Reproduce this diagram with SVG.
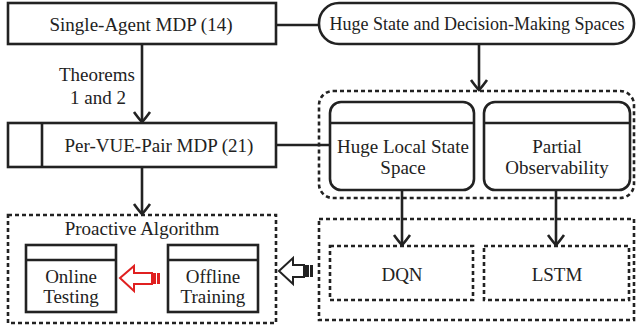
<svg xmlns="http://www.w3.org/2000/svg" width="637" height="335" viewBox="0 0 637 335">
<defs>
<marker id="ah" viewBox="-12 -10 14 20" refX="0" refY="0" markerWidth="14" markerHeight="20" markerUnits="userSpaceOnUse" orient="auto">
<path d="M -10 -8 Q -3 -3 0 0 Q -3 3 -10 8" fill="none" stroke="#222" stroke-width="2.6"/>
</marker>
</defs>
<g id="connectors" fill="none" stroke="#222" stroke-width="2.6">
<line x1="276" y1="25" x2="319" y2="25"/>
<line x1="276" y1="145" x2="330" y2="145"/>
<line x1="142" y1="44" x2="142" y2="122" marker-end="url(#ah)"/>
<line x1="142" y1="167" x2="142" y2="214" marker-end="url(#ah)"/>
<line x1="479" y1="44" x2="479" y2="90" marker-end="url(#ah)"/>
<line x1="402" y1="190" x2="402" y2="245" marker-end="url(#ah)"/>
<line x1="556" y1="190" x2="556" y2="245" marker-end="url(#ah)"/>
<g id="red-arrow" stroke="none">
<path d="M120 278 L134 266 L134 273 L152 273 L152 284 L134 284 L134 291 Z" fill="#fff" stroke="#e02020" stroke-width="2"/>
<rect x="152" y="273" width="4" height="11" fill="#e02020"/>
<rect x="157" y="273" width="3" height="11" fill="#e02020"/>
</g>
<g id="black-arrow" stroke="none">
<path d="M279 271 L293 258 L293 265 L304 265 L304 277 L293 277 L293 284 Z" fill="#fff" stroke="#222" stroke-width="2"/>
<rect x="304" y="265" width="5" height="12" fill="#222"/>
<rect x="310" y="265" width="3" height="12" fill="#222"/>
</g>
</g>
<g fill="#fff" stroke="#222" stroke-width="2.6">
<g id="single-agent"><rect x="8" y="3" width="268" height="41"/></g>
<g id="huge-state"><rect x="319" y="3" width="315" height="41" rx="20"/></g>
<g id="per-vue"><rect x="8" y="123" width="268" height="44"/><line x1="42" y1="123" x2="42" y2="167"/></g>
<g id="challenges"><rect x="319" y="91" width="315" height="107" rx="14" fill="none" stroke-dasharray="4 3"/></g>
<g id="huge-local"><rect x="330" y="102" width="144" height="88" rx="11"/><line x1="330" y1="123" x2="474" y2="123"/></g>
<g id="partial"><rect x="484" y="102" width="146" height="88" rx="11"/><line x1="484" y1="123" x2="630" y2="123"/></g>
<g id="methods"><rect x="319" y="219" width="315" height="101" fill="none" stroke-dasharray="4 3"/></g>
<g id="dqn"><rect x="330" y="246" width="143" height="54" fill="none" stroke-dasharray="4 3"/></g>
<g id="lstm"><rect x="484" y="246" width="145" height="54" fill="none" stroke-dasharray="4 3"/></g>
<g id="proactive"><rect x="8" y="215" width="268" height="108" fill="none" stroke-dasharray="4 3"/></g>
<g id="online"><rect x="26" y="245" width="90" height="67"/><line x1="26" y1="260" x2="116" y2="260"/></g>
<g id="offline"><rect x="168" y="245" width="90" height="67"/><line x1="168" y1="260" x2="258" y2="260"/></g>
</g>
<g id="labels" fill="#222" text-anchor="middle" font-size="19" font-family="Times New Roman, Liberation Serif, serif">
<text x="97" y="81">Theorems</text>
<text x="98" y="104">1 and 2</text>
<text x="141" y="31">Single-Agent MDP (14)</text>
<text x="477" y="30" font-size="18">Huge State and Decision-Making Spaces</text>
<text x="159" y="152">Per-VUE-Pair MDP (21)</text>
<text x="403" y="153">Huge Local State</text>
<text x="403" y="174">Space</text>
<text x="557" y="153">Partial</text>
<text x="557" y="174">Observability</text>
<text x="402" y="281">DQN</text>
<text x="557" y="281">LSTM</text>
<text x="142" y="235">Proactive Algorithm</text>
<text x="71" y="283">Online</text>
<text x="71" y="303">Testing</text>
<text x="213" y="283">Offline</text>
<text x="213" y="303">Training</text>
</g>
</svg>
